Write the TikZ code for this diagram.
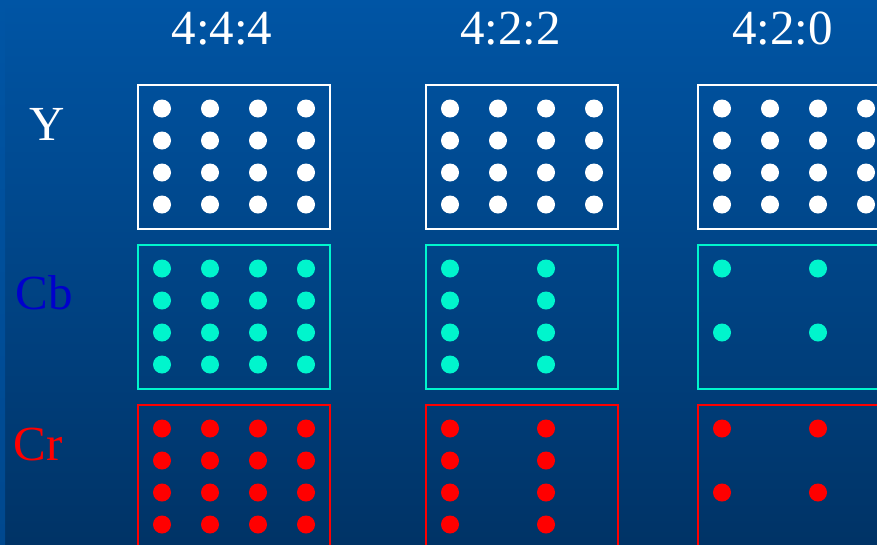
\documentclass[tikz,border=0pt]{standalone}
\usepackage{fontspec}
\setmainfont{Liberation Serif}
\definecolor{bgtop}{RGB}{0,85,165}
\definecolor{bgbot}{RGB}{0,51,102}
\definecolor{striptop}{RGB}{0,85,165}
\definecolor{stripbot}{RGB}{0,72,142}
\definecolor{cbcyan}{RGB}{0,245,205}
\definecolor{cbtext}{RGB}{0,0,204}
\definecolor{crred}{RGB}{255,0,0}
\tikzset{
  lbl/.style={inner sep=0pt, font=\fontsize{49}{58}\selectfont},
  grid/.style={line width=2pt},
}
\begin{document}
\begin{tikzpicture}[x=1pt,y=-1pt]
\useasboundingbox (0,0) rectangle (877,544);
\clip (0,0) rectangle (877,544);
\shade[top color=bgtop,bottom color=bgbot] (0,0) rectangle (877,544);
\shade[top color=striptop,bottom color=stripbot] (0,0) rectangle (5,544);
% titles
\node[lbl,text=white] (t444) at (222,29) {4:4:4};
\node[lbl,text=white] (t422) at (510.5,29) {4:2:2};
\node[lbl,text=white] (t420) at (782.5,29) {4:2:0};
% row labels
\node[lbl,text=white] (ly) at (47.5,124.5) {Y};
\node[lbl,text=cbtext] (lcb) at (44.5,292.5) {Cb};
\node[lbl,text=crred] (lcr) at (38,445) {Cr};
% boxes
\foreach \bx in {138,426,698}{
  \draw[grid,white] (\bx,85) rectangle ++(192,144);
  \draw[grid,cbcyan] (\bx,245) rectangle ++(192,144);
  \draw[grid,crred] (\bx,405) rectangle ++(192,144);
  % Y: full
  \foreach \cx in {24,72,120,168}
    \foreach \cy in {23.5,55.5,87.5,119.5}
      \fill[white] (\bx+\cx,85+\cy) circle (9);
}
% 4:4:4 chroma
\foreach \cx in {24,72,120,168}
  \foreach \cy in {23.5,55.5,87.5,119.5}{
    \fill[cbcyan] (138+\cx,245+\cy) circle (9);
    \fill[crred] (138+\cx,405+\cy) circle (9);
  }
% 4:2:2 chroma
\foreach \cx in {24,120}
  \foreach \cy in {23.5,55.5,87.5,119.5}{
    \fill[cbcyan] (426+\cx,245+\cy) circle (9);
    \fill[crred] (426+\cx,405+\cy) circle (9);
  }
% 4:2:0 chroma
\foreach \cx in {24,120}
  \foreach \cy in {23.5,87.5}{
    \fill[cbcyan] (698+\cx,245+\cy) circle (9);
    \fill[crred] (698+\cx,405+\cy) circle (9);
  }
\end{tikzpicture}
\end{document}
